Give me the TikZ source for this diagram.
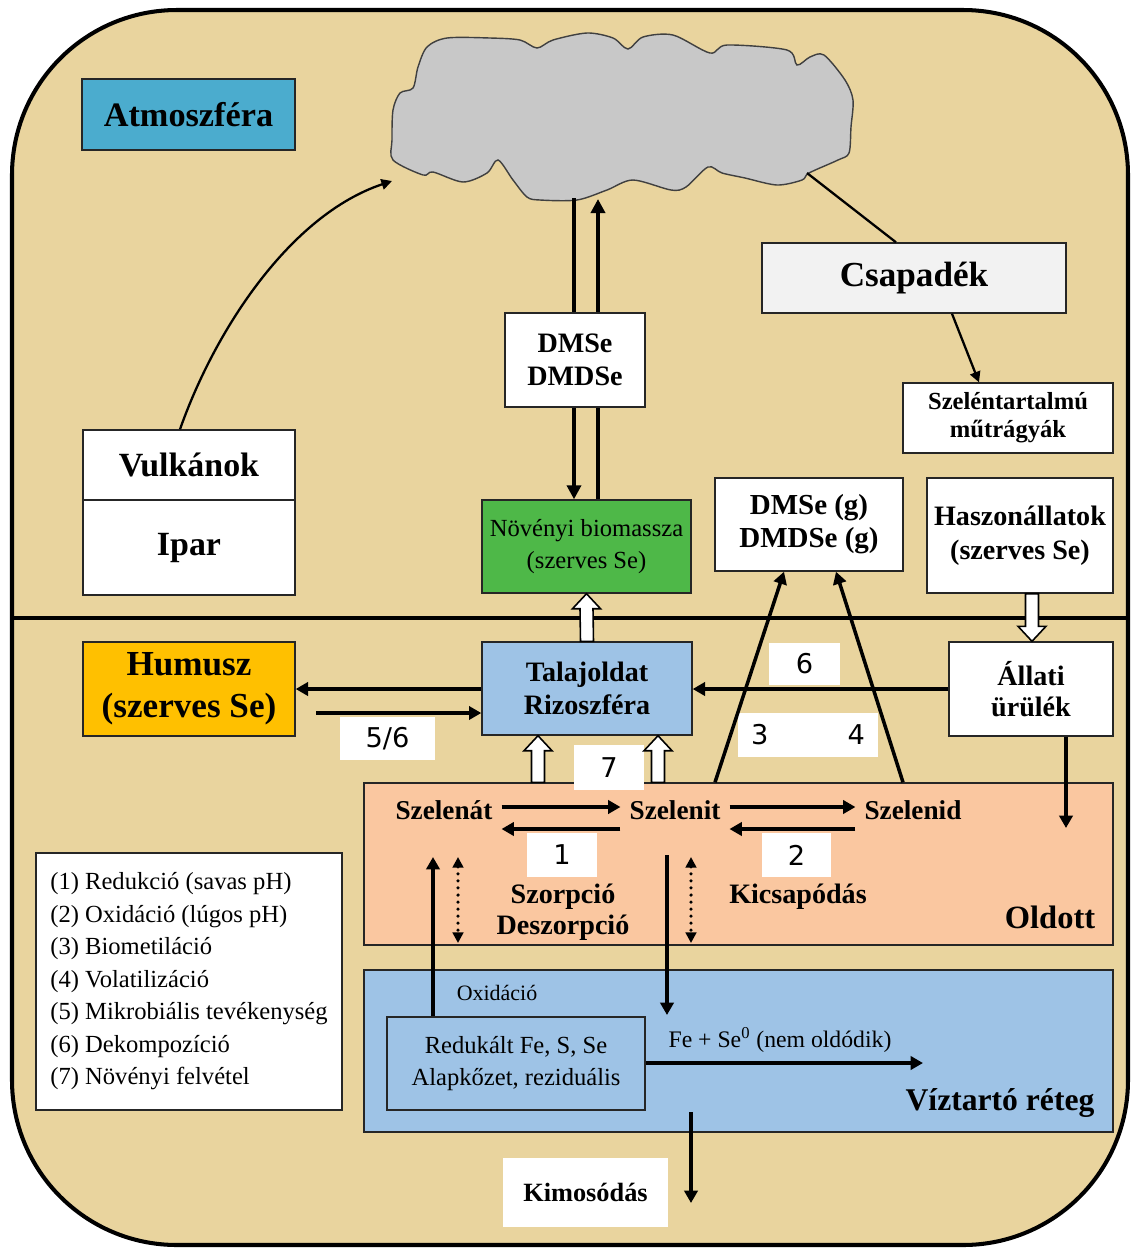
\documentclass[tikz,border=0pt]{standalone}
\usepackage{fontspec}
\setmainfont{Liberation Serif}
\newfontfamily\numfont{DejaVu Sans}
\usetikzlibrary{arrows.meta,calc}
\newcommand\fsz[2]{\fontsize{#1}{#2}\selectfont}
\definecolor{papyrus}{RGB}{233,212,158}
\definecolor{atmblue}{RGB}{75,172,206}
\definecolor{cloudgray}{RGB}{200,200,200}
\definecolor{rainbox}{RGB}{242,242,242}
\definecolor{plantgreen}{RGB}{78,184,72}
\definecolor{humusgold}{RGB}{255,192,0}
\definecolor{soilblue}{RGB}{158,195,230}
\definecolor{peach}{RGB}{250,199,160}
\begin{document}
\begin{tikzpicture}[x=0.02cm,y=-0.02cm,
    wh/.style 2 args={minimum width=#1*0.02cm, minimum height=#2*0.02cm},
    box/.style={draw=black!85, line width=0.8pt, inner sep=0pt, align=center, font=\fsz{16}{18.5}\bfseries},
    lbl/.style={fill=white, inner sep=0pt, font=\numfont\fsz{15.5}{18}},
    spec/.style={inner sep=5pt, font=\fsz{15.5}{18}\bfseries},
    flow/.style={line width=2pt, -{Triangle[length=7pt,width=7.5pt]}},
    wire/.style={line width=1.3pt, -{Triangle[length=6pt,width=6pt]}},
    dots/.style={line width=2pt, line cap=round, dash pattern=on 0pt off 4pt, {Triangle[length=6pt,width=6pt]}-{Triangle[length=6pt,width=6pt]}},
    hollow/.style={draw=black, fill=white, line width=0.9pt},
    hup/.style={to path={([xshift=-0.13cm]\tikztostart) -- ([xshift=-0.13cm,yshift=-0.3cm]\tikztotarget)
      -- ([xshift=-0.28cm,yshift=-0.3cm]\tikztotarget) -- (\tikztotarget)
      -- ([xshift=0.28cm,yshift=-0.3cm]\tikztotarget) -- ([xshift=0.13cm,yshift=-0.3cm]\tikztotarget)
      -- ([xshift=0.13cm]\tikztostart) -- cycle}},
    hdown/.style={to path={([xshift=-0.13cm]\tikztostart) -- ([xshift=-0.13cm,yshift=0.3cm]\tikztotarget)
      -- ([xshift=-0.28cm,yshift=0.3cm]\tikztotarget) -- (\tikztotarget)
      -- ([xshift=0.28cm,yshift=0.3cm]\tikztotarget) -- ([xshift=0.13cm,yshift=0.3cm]\tikztotarget)
      -- ([xshift=0.13cm]\tikztostart) -- cycle}}]
    \useasboundingbox (0,0) rectangle (1138,1249);
    \fill[white] (0,0) rectangle (1138,1249);
    \draw[line width=2.3pt, fill=papyrus, rounded corners=3.3cm] (12,10) rectangle (1128,1245);
    \draw[line width=2.8pt] (12,618) -- (1128,618);

    % cloud
    \draw[fill=cloudgray, draw=black!75, line width=0.8pt] plot[smooth cycle, tension=0.5] coordinates {
        (393,160) (392,140) (393,110) (400,93) (413,88) (418,67) (427,47) (447,38) (490,38)
        (520,40) (537,48) (553,40) (587,33) (613,38) (628,49) (643,37) (673,35) (710,53)
        (727,45) (787,50) (797,65) (810,57) (824,55) (845,80) (853,100) (851,127) (849,153)
        (838,160) (809,173) (802,180) (777,185) (745,178) (722,173) (708,167) (686,187)
        (671,190) (633,180) (607,190) (577,200) (540,200) (527,197) (513,180) (498,160)
        (487,173) (463,182) (433,172) (423,175)};
    \coordinate (cl-vul) at (392,181);
    \coordinate (cl-dn) at (574,198);
    \coordinate (cl-up) at (598,199);
    \coordinate (cl-csap) at (807,173);

    % atmosphere
    \node[box, fill=atmblue, wh={213}{71}, font=\fsz{19.5}{22}\bfseries] (atm) at (188.5,114.5) {Atmoszféra};
    \node[box, fill=rainbox, wh={304}{70}, font=\fsz{20}{23}\bfseries] (csap) at (914,278) {Csapadék};
    \node[box, fill=white, wh={210}{70}, font=\fsz{14}{16}\bfseries] (szel) at (1008,418) {Szeléntartalmú\\műtrágyák};
    \node[box, fill=white, wh={212}{70}, font=\fsz{19.3}{22}\bfseries] (vul) at (189,465) {Vulkánok};
    \node[box, fill=white, wh={212}{95}, font=\fsz{19.3}{22}\bfseries] (ipar) at (189,547.5) {Ipar};
    \node[box, fill=plantgreen, wh={209}{93}, font=\fsz{14}{18}] (bio) at (586.5,546.5) {Növényi biomassza\\(szerves Se)};
    \node[box, fill=white, wh={188}{93}, font=\fsz{16.5}{18.7}\bfseries] (dmsg) at (809,524.5) {DMSe (g)\\DMDSe (g)};
    \node[box, fill=white, wh={186}{115}, font=\fsz{16}{19.3}\bfseries] (hasz) at (1020,535.5) {Haszonállatok\\(szerves Se)};

    \draw[wire] (vul.north -| 180,0) .. controls (215,330) and (290,215) .. (cl-vul);
    \draw[line width=1.3pt] (cl-csap) -- (csap.north -| 896,0);
    \draw[wire] (csap.south -| 952,0) -- (szel.north -| 979,0);
    \draw[line width=2.6pt, -{Triangle[length=8pt,width=8pt]}] (cl-dn) -- (bio.north -| 574,0);
    \draw[line width=2.6pt, -{Triangle[length=8pt,width=8pt]}] (bio.north -| 598,0) -- (cl-up);
    \node[box, fill=white, wh={140}{94}, font=\fsz{16}{18.7}\bfseries] (dms) at (575,360) {DMSe\\DMDSe};

    % soil
    \node[box, fill=humusgold, wh={212}{94}, font=\fsz{20}{24}\bfseries] (hum) at (189,689) {Humusz\\(szerves Se)};
    \node[box, fill=soilblue, wh={210}{93}] (tal) at (587,688.5) {Talajoldat\\Rizoszféra};
    \node[box, fill=white, wh={164}{94}, font=\fsz{16}{17.6}\bfseries] (all) at (1031,689) {Állati\\ürülék};
    \node[box, fill=peach, wh={749}{162}] (old) at (738.5,864) {};
    \node[box, fill=soilblue, wh={749}{162}] (viz) at (738.5,1051) {};
    \node[box, fill=soilblue, wh={258}{93}, font=\fsz{14}{18.7}] (red) at (516,1063.5) {Redukált Fe, S, Se\\Alapkőzet, reziduális};
    \node[box, draw=none, fill=white, wh={165}{69}, font=\fsz{15}{18}\bfseries] (kim) at (585.5,1192.5) {Kimosódás};
    \node[box, fill=white, wh={306}{257}, align=left, font=\fsz{14}{18.5}] (leg) at (189,981.5) {(1) Redukció (savas pH)\\(2) Oxidáció (lúgos pH)\\(3) Biometiláció\\(4) Volatilizáció\\(5) Mikrobiális tevékenység\\(6) Dekompozíció\\(7) Növényi felvétel};

    \node[spec] (szat) at (444,810) {Szelenát};
    \node[spec] (szit) at (675,810) {Szelenit};
    \node[spec] (szid) at (913,810) {Szelenid};
    \node[font=\fsz{16}{17.6}\bfseries, align=center] (szorp) at (563,912) {Szorpció\\Deszorpció};
    \node[font=\fsz{16}{18}\bfseries] (kics) at (798,897) {Kicsapódás};
    \node[font=\fsz{18.5}{20}\bfseries] (oldtxt) at (1050,917) {Oldott};
    \node[font=\fsz{12.5}{15}] (oxid) at (497,993) {Oxidáció};
    \node[font=\fsz{13.5}{16}] (fese) at (780,1040) {Fe + Se\textsuperscript{0} (nem oldódik)};
    \node[font=\fsz{18}{20}\bfseries] (viztxt) at (1000,1103) {Víztartó réteg};

    \node[lbl, wh={95}{43}] (l56) at (387.5,738.5) {5/6};
    \node[lbl, wh={71}{42}] (l6) at (804.5,664) {6};
    \node[lbl, wh={140}{44}] (l34) at (808,735) {3\hspace{45pt}4};
    \node[lbl, wh={70}{45}] (l7) at (609,767.5) {7};
    \node[lbl, wh={70}{44}] (l1) at (562,855) {1};
    \node[lbl, wh={69}{44}] (l2) at (796.5,855) {2};

    \coordinate (hu-out) at (316,713);
    \coordinate (ur-end) at (1066,828);
    \coordinate (ox-top) at (433,857);
    \coordinate (pr-top) at (667,855);
    \coordinate (pr-end) at (667,1015);
    \coordinate (so-top) at (458,857);
    \coordinate (so-bot) at (458,943);
    \coordinate (ki-top) at (691,857);
    \coordinate (ki-bot) at (691,943);
    \coordinate (fe-end) at (923,1063);
    \coordinate (km-top) at (691,1112);
    \coordinate (km-end) at (691,1203);

    % fluxes
    \draw[hollow] (tal.north) to[hup] (bio.south);
    \draw[hollow] (hasz.south -| 1032,0) to[hdown] (all.north -| 1032,0);
    \draw[hollow] (old.north -| 538,0) to[hup] (tal.south -| 538,0);
    \draw[hollow] (old.north -| 658,0) to[hup] (tal.south -| 658,0);
    \draw[flow] (tal.west |- 0,689) -- (hum.east |- 0,689);
    \draw[flow] (hu-out) -- (tal.west |- 0,713);
    \draw[flow] (all.west |- 0,689) -- (tal.east |- 0,689);
    \draw[flow] (all.south -| 1066,0) -- (ur-end);
    \draw[flow] (old.north -| 715,0) -- (dmsg.south -| 784,0);
    \draw[flow] (old.north -| 903,0) -- (dmsg.south -| 836,0);
    \draw[flow] (szat.east |- 0,807) -- (szit.west |- 0,807);
    \draw[flow] (szit.west |- 0,829) -- (szat.east |- 0,829);
    \draw[flow] (szit.east |- 0,807) -- (szid.west |- 0,807);
    \draw[flow] (szid.west |- 0,829) -- (szit.east |- 0,829);
    \draw[flow] (red.north -| 433,0) -- (ox-top);
    \draw[flow] (pr-top) -- (pr-end);
    \draw[dots] (so-top) -- (so-bot);
    \draw[dots] (ki-top) -- (ki-bot);
    \draw[flow] (red.east |- 0,1063) -- (fe-end);
    \draw[flow] (km-top) -- (km-end);
\end{tikzpicture}
\end{document}
